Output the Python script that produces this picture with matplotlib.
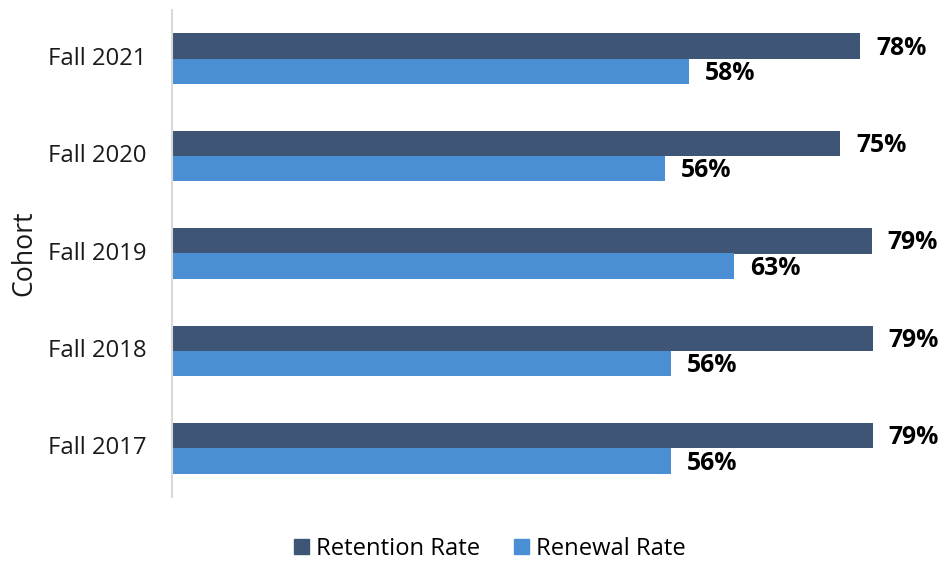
import numpy as np
import matplotlib.pyplot as plt
import matplotlib.transforms as mtransforms
from matplotlib.patches import Patch

plt.rcParams['font.family'] = ['Open Sans', 'DejaVu Sans']

cohorts   = ['Fall 2017', 'Fall 2018', 'Fall 2019', 'Fall 2020', 'Fall 2021']
retention = [79.0, 79.0, 78.9, 75.35, 77.55]
renewal   = [56.2, 56.2, 63.4, 55.6, 58.3]

c_ret = '#3F5576'
c_ren = '#4A8FD4'

fig = plt.figure(figsize=(9.41, 5.62), dpi=100)
ax = fig.add_axes([172/941, 1-497/562, 754/941, 487/562])

y = np.arange(len(cohorts))
h = 0.26

ax.barh(y + h/2, retention, height=h, color=c_ret)
ax.barh(y - h/2, renewal, height=h, color=c_ren)

# value labels
for yi, v in zip(y, retention):
	ax.annotate('{:.0f}%'.format(v), (v, yi + h/2), xytext=(11.5, -1.5), textcoords='offset points',
		va='center', ha='left', fontsize=17.8, fontweight='bold', color='black')
for yi, v in zip(y, renewal):
	ax.annotate('{:.0f}%'.format(v), (v, yi - h/2), xytext=(11.5, -1.5), textcoords='offset points',
		va='center', ha='left', fontsize=17.8, fontweight='bold', color='black')

ax.set_xlim(0, 85)
ax.set_ylim(-0.5, 4.5)
ax.set_yticks(y)
ax.set_yticklabels(cohorts, fontsize=17.2, color='#1a1a1a')
ax.set_xticks([])
ax.tick_params(axis='y', length=0, pad=18.5)

# nudge tick labels up a bit
shift = mtransforms.ScaledTranslation(0, 3/100, fig.dpi_scale_trans)
for lab in ax.get_yticklabels():
	lab.set_transform(lab.get_transform() + shift)

for s in ['top', 'right', 'bottom']:
	ax.spines[s].set_visible(False)
ax.spines['left'].set_color('#d9d9d9')
ax.spines['left'].set_linewidth(1.5)

ax.set_ylabel('Cohort', fontsize=19.2, color='#1a1a1a')
ax.yaxis.set_label_coords(-0.177, 0.5)

handles = [Patch(color=c_ret, label='Retention Rate'), Patch(color=c_ren, label='Renewal Rate')]
fig.legend(handles=handles, loc='center', bbox_to_anchor=(490/941, 1-549/562), ncol=2, frameon=False,
	fontsize=17.1, handlelength=0.62, handleheight=0.62, handletextpad=0.3, columnspacing=1.45)

plt.savefig('out.png', dpi=100)
